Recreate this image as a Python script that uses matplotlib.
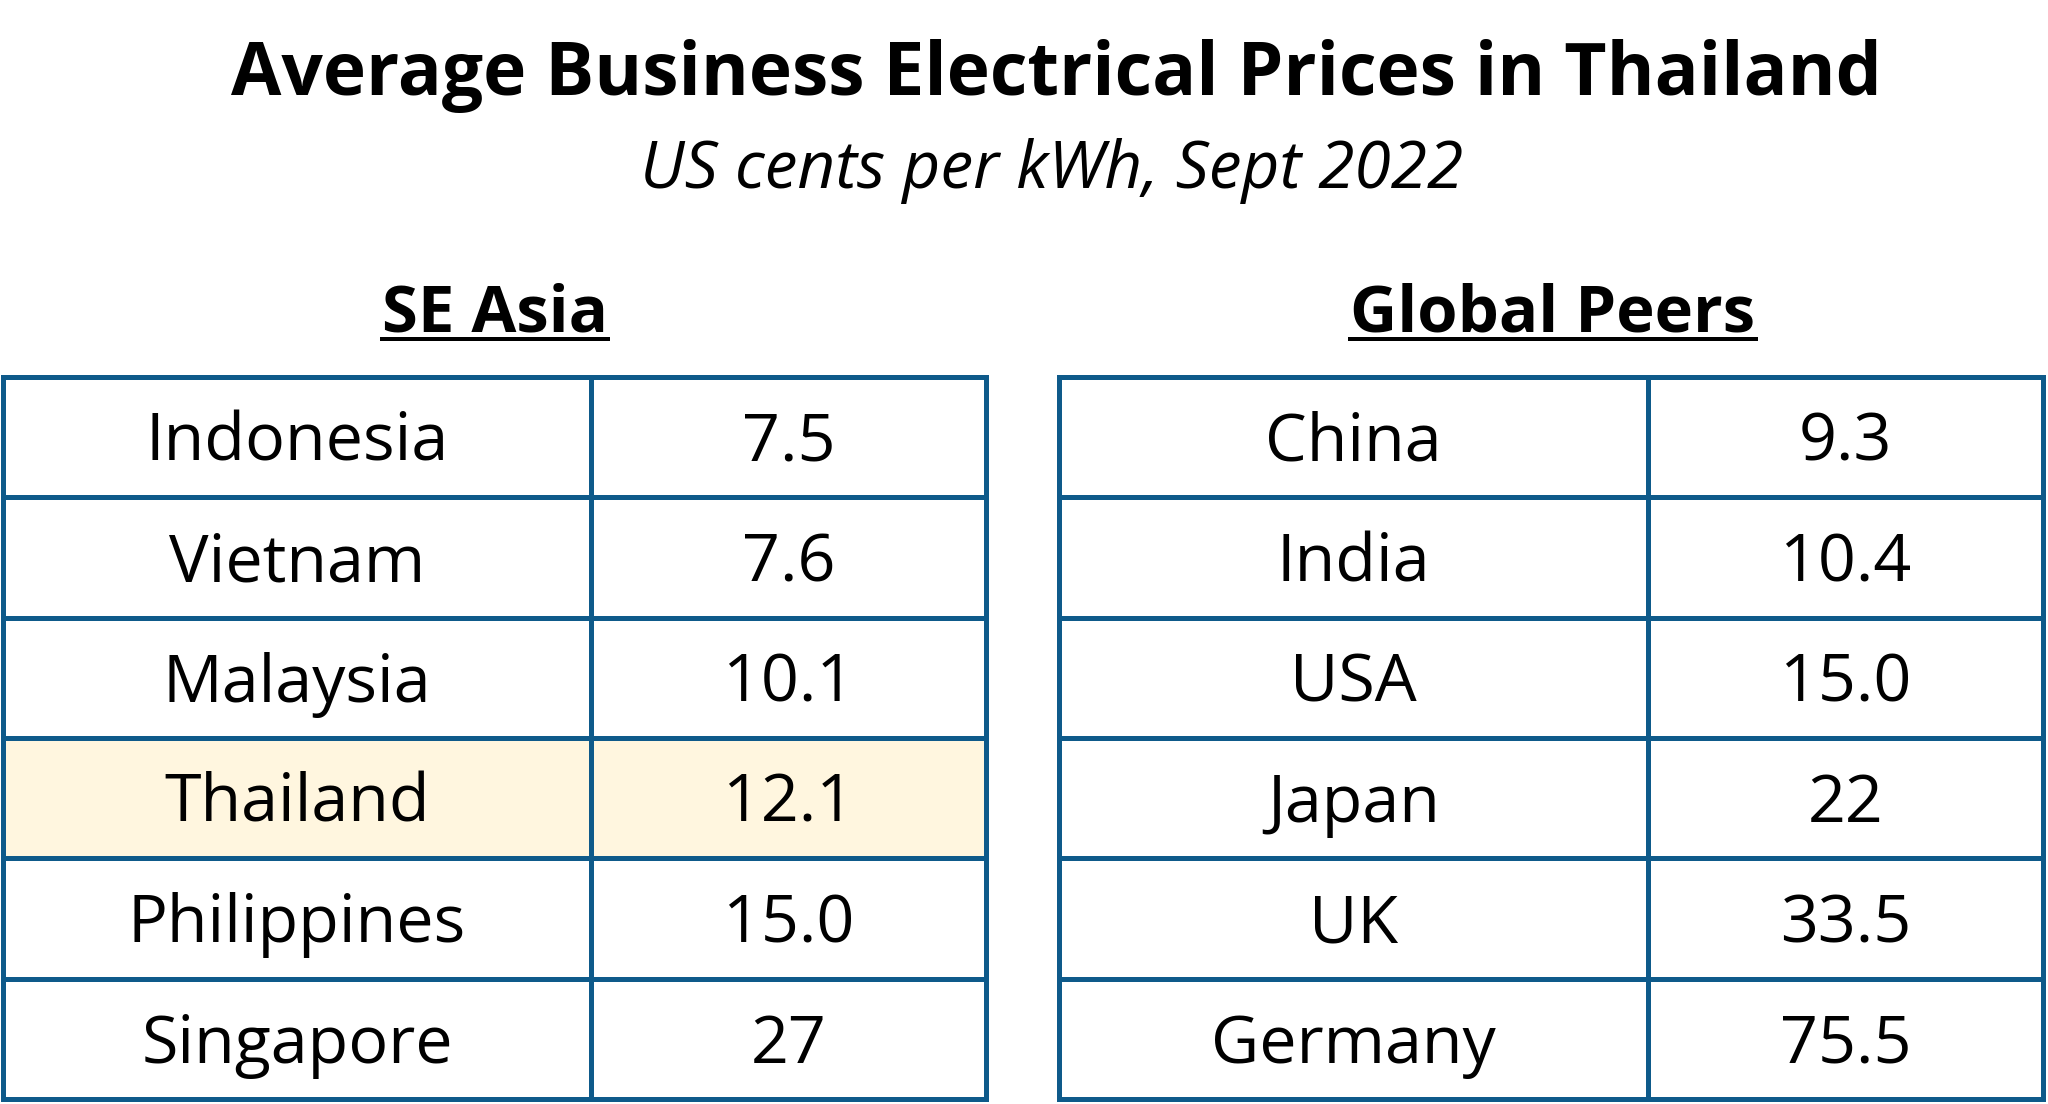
import matplotlib
matplotlib.use("Agg")
import matplotlib.pyplot as plt
from matplotlib.patches import Rectangle

# ---- data ----
title = "Average Business Electrical Prices in Thailand"
subtitle = "US cents per kWh, Sept 2022"

se_header = "SE Asia"
se_countries = ["Indonesia", "Vietnam", "Malaysia", "Thailand", "Philippines", "Singapore"]
se_values = ["7.5", "7.6", "10.1", "12.1", "15.0", "27"]

gl_header = "Global Peers"
gl_countries = ["China", "India", "USA", "Japan", "UK", "Germany"]
gl_values = ["9.3", "10.4", "15.0", "22", "33.5", "75.5"]

highlight = "Thailand"

# ---- style ----
W, H = 2048, 1104
DPI = 100
BORDER = "#0E5A8A"
HL = "#FFF6DF"
FONT = "Open Sans"
CELL_FS = 47.8
plt.rcParams["font.family"] = [FONT, "DejaVu Sans"]

fig = plt.figure(figsize=(W / DPI, H / DPI), dpi=DPI)
fig.patch.set_facecolor("white")

def px(x, y):
    return x / W, 1 - y / H

fig.text(*px(1056, 95), title, ha="center", va="baseline", fontsize=52.6,
         fontweight="bold", color="black")
fig.text(*px(1052, 188), subtitle, ha="center", va="baseline", fontsize=47.3,
         fontstyle="italic", color="black")

lw = 5 * 72 / DPI


def draw_table(x0, x1, xdiv, y0, y1, header, hx, countries, values):
    ax = fig.add_axes([x0 / W, 1 - y1 / H, (x1 - x0) / W, (y1 - y0) / H])
    n = len(countries)
    ax.set_xlim(0, 1)
    ax.set_ylim(n, 0)
    ax.axis("off")
    split = (xdiv - x0) / (x1 - x0)
    row_px = (y1 - y0) / n
    cap_half = 0.714 * CELL_FS * DPI / 72 / 2
    base_off = 0.5 + cap_half / row_px
    for i, (c, v) in enumerate(zip(countries, values)):
        if c == highlight:
            ax.add_patch(Rectangle((0, i), 1, 1, facecolor=HL, edgecolor="none", zorder=0))
        ax.text(split / 2, i + base_off, c, ha="center", va="baseline",
                fontsize=CELL_FS, color="black", zorder=3)
        ax.text(split + (1 - split) / 2, i + base_off, v, ha="center", va="baseline",
                fontsize=CELL_FS, color="black", zorder=3)
    for i in range(n + 1):
        ax.plot([0, 1], [i, i], color=BORDER, lw=lw, clip_on=False,
                solid_capstyle="projecting", zorder=2)
    for xx in [0, split, 1]:
        ax.plot([xx, xx], [0, n], color=BORDER, lw=lw, clip_on=False,
                solid_capstyle="projecting", zorder=2)
    # header
    t = fig.text(*px(hx, 332), header, ha="center", va="baseline", fontsize=47,
                 fontweight="bold", color="black")
    return t


t1 = draw_table(3, 986, 591, 377, 1099, se_header, 495, se_countries, se_values)
t2 = draw_table(1059, 2043, 1648, 377, 1099, gl_header, 1553, gl_countries, gl_values)

fig.canvas.draw()
r = fig.canvas.get_renderer()
for t in (t1, t2):
    bb = t.get_window_extent(r)
    yline = 1 - 339 / H
    fig.add_artist(plt.Line2D([bb.x0 / W, bb.x1 / W], [yline, yline],
                              color="black", lw=4 * 72 / DPI,
                              transform=fig.transFigure))

fig.savefig("out.png", dpi=DPI, facecolor="white")
